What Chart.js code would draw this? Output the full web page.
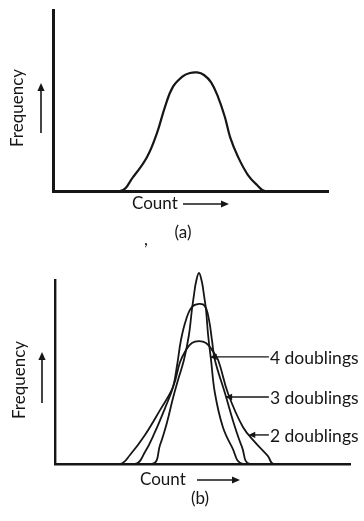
<!DOCTYPE html>
<html>
<head>
<meta charset="utf-8">
<script src="https://cdn.jsdelivr.net/npm/chart.js@4.4.0/dist/chart.umd.min.js"></script>
<style>
body{margin:0;background:#fff;width:364px;height:521px;overflow:hidden;position:relative}
canvas{position:absolute;left:0}
#chartA{top:0}
#chartB{top:260px}
</style>
</head>
<body>
<canvas id="chartA" width="364" height="260"></canvas>
<canvas id="chartB" width="364" height="261"></canvas>
<script>
// (a) one distribution
const countA=[0,24.4,29.1,34.2,37.8,40.7,43.6,47.3,49.8,52.4,54.9,57.5,60,62.5,64.4,67.3,70.9,74.2,77.1,100]
const freqA=[0,0,7.7,18.8,32,46.4,57.5,63.5,65.2,65.5,64.1,60.0,52.0,40.9,29.8,18.8,8.8,3.3,0,0]
// (b) after 4, 3 and 2 doublings
const count4=[0,32.9,35.6,38.0,40.0,41.7,43.7,45.4,46.4,47.1,47.8,48.8,49.8,50.5,51.2,51.9,52.9,54.2,56.9,60.0,63.7,100]
const freq4=[0,0,10.3,22.8,35.9,45.7,56.5,70.1,83.7,91.8,98.9,103.8,98.9,91.8,83.7,70.1,56.5,38.6,20.1,9.2,0,0]
const count3=[0,27.1,30.5,33.9,37.3,40.0,41.4,42.7,44.4,46.4,48.8,50.8,52.2,53.2,54.2,57.6,61.0,63.4,66.1,100]
const freq3=[0,0,6.5,17.4,30.4,41.8,53.8,67.4,78.3,85.3,87.0,85.9,78.3,67.4,56.5,38.6,20.1,9.2,0,0]
const count2=[0,22.0,25.4,30.5,35.6,40.0,42.4,44.4,46.4,48.8,51.2,53.2,55.3,58.6,63.7,68.0,72.2,74.1,100]
const freq2=[0,0,4.9,15.8,29.3,41.8,55.4,62.0,65.8,66.8,65.8,62.0,56.5,38.6,20.1,11.5,4.3,0,0]
const seriesNames=["4 doublings","3 doublings","2 doublings"]
const labelLevels=[58.2,36.4,15.8]

const ink="#161616"
function pts(xs,ys){return xs.map((x,i)=>({x:x,y:ys[i]}))}

function arrow(c,x1,y1,x2,y2,w,head){
  const a=Math.atan2(y2-y1,x2-x1)
  c.lineWidth=w
  c.beginPath();c.moveTo(x1,y1);c.lineTo(x2-Math.cos(a)*head*0.6,y2-Math.sin(a)*head*0.6);c.stroke()
  c.beginPath()
  c.moveTo(x2,y2)
  c.lineTo(x2-head*Math.cos(a)+head*0.45*Math.sin(a),y2-head*Math.sin(a)-head*0.45*Math.cos(a))
  c.lineTo(x2-head*Math.cos(a)-head*0.45*Math.sin(a),y2-head*Math.sin(a)+head*0.45*Math.cos(a))
  c.closePath();c.fill()
}

// right-hand crossing of a curve at a given level
function rightX(data,level){
  let top=0
  data.forEach((p,i)=>{if(p.y>data[top].y)top=i})
  for(let i=top;i<data.length-1;i++){
    const p=data[i],q=data[i+1]
    if(p.y>=level&&q.y<=level) return p.x+(p.y-level)/(p.y-q.y)*(q.x-p.x)
  }
  return data[top].x
}

const decor={
  id:"decor",
  afterDraw(chart,args,o){
    const c=chart.ctx
    c.save()
    c.fillStyle=ink;c.strokeStyle=ink
    c.font="17px Lato"
    c.textBaseline="middle"
    c.save();c.translate(o.freq[0],o.freq[1]);c.rotate(-Math.PI/2);c.textAlign="center";c.fillText("Frequency",0,0);c.restore()
    arrow(c,o.up[0],o.up[1],o.up[0],o.up[2],1.6,8)
    c.textAlign="left";c.fillText("Count",o.count[0],o.count[1])
    arrow(c,o.right[0],o.count[1],o.right[1],o.count[1],1.6,8)
    c.textAlign="center";c.fillText(o.caption,o.cap[0],o.cap[1])
    if(o.comma){c.fillText(",",o.comma[0],o.comma[1])}
    if(o.labels){
      const xs=chart.scales.x,ys=chart.scales.y
      c.textAlign="left"
      c.font="17.5px Lato"
      chart.data.datasets.forEach((ds,i)=>{
        const py=ys.getPixelForValue(labelLevels[i])
        const px=xs.getPixelForValue(rightX(ds.data,labelLevels[i]))
        const tx=xs.getPixelForValue(o.labelAt)
        arrow(c,tx,py,px-1,py,1.4,7)
        c.fillText(seriesNames[i],tx+1,py+1)
      })
    }
    c.restore()
  }
}

function axes(w){
  const s={type:"linear",min:0,max:100,ticks:{display:false},grid:{display:false,drawTicks:false},border:{display:true,color:ink,width:w}}
  return {x:Object.assign({},s),y:Object.assign({},s)}
}

new Chart(document.getElementById("chartA"),{
  type:"line",
  data:{datasets:[{label:"Count",data:pts(countA,freqA),borderColor:ink,borderWidth:2.2,pointRadius:0,tension:0.4,fill:false}]},
  options:{
    responsive:false,animation:false,events:[],
    layout:{padding:{left:53,top:10,right:36,bottom:69}},
    scales:axes(3),
    plugins:{legend:{display:false},tooltip:{enabled:false},
      decor:{freq:[18,108],up:[41,133,83],count:[132,204],right:[183,229],caption:"(a)",cap:[183,233],comma:[146,240]}}
  },
  plugins:[decor]
})

new Chart(document.getElementById("chartB"),{
  type:"line",
  data:{datasets:[
    {label:seriesNames[0],data:pts(count4,freq4)},
    {label:seriesNames[1],data:pts(count3,freq3)},
    {label:seriesNames[2],data:pts(count2,freq2)}
  ].map(d=>Object.assign(d,{borderColor:ink,borderWidth:1.8,pointRadius:0,tension:0.4,fill:false,clip:false}))},
  options:{
    responsive:false,animation:false,events:[],
    layout:{padding:{left:55,top:20,right:14,bottom:57}},
    scales:axes(2.4),
    plugins:{legend:{display:false},tooltip:{enabled:false},
      decor:{freq:[20,120],up:[42,143,92],count:[140,220],right:[197,240],caption:"(b)",cap:[200,239],labels:true,labelAt:72.5}}
  },
  plugins:[decor]
})
</script>
</body>
</html>
